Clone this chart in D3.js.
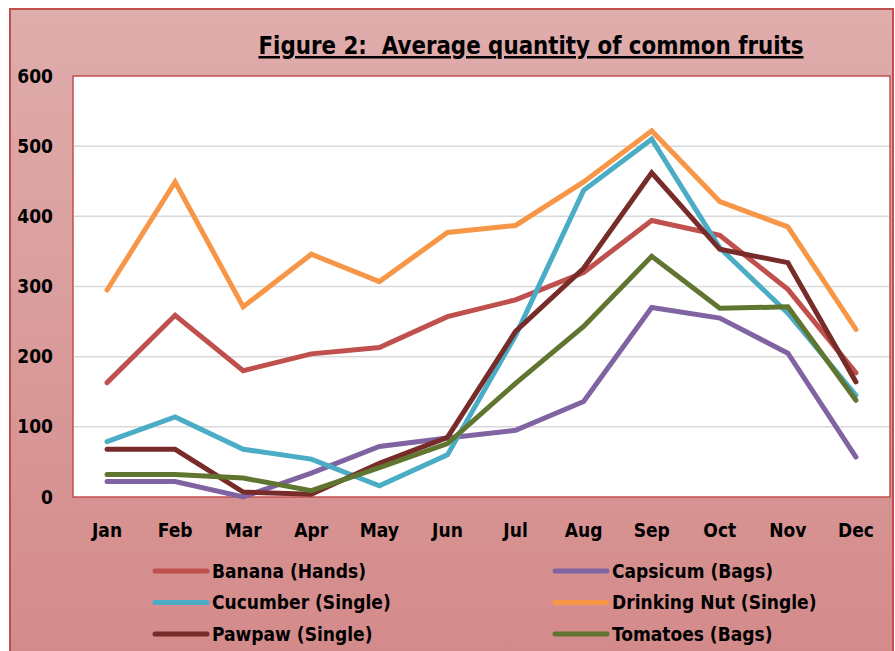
<!DOCTYPE html>
<html>
<head>
<meta charset="utf-8">
<script src="https://cdn.jsdelivr.net/npm/d3@7"></script>
<style>
  body { margin: 0; background: #fff; }
  text { font-family: "Liberation Sans Narrow", "DejaVu Sans Condensed", sans-serif; font-weight: bold; fill: #000; }
</style>
</head>
<body>
<div id="chart"></div>
<script>
var months = ["Jan", "Feb", "Mar", "Apr", "May", "Jun", "Jul", "Aug", "Sep", "Oct", "Nov", "Dec"];
var yTicks = [0, 100, 200, 300, 400, 500, 600];

var banana = [163, 259, 180, 204, 213, 257, 281, 320, 394, 373, 296, 177];
var capsicum = [22, 22, 0, 34, 72, 84, 95, 136, 270, 255, 205, 57];
var cucumber = [79, 114, 68, 54, 16, 60, 230, 437, 510, 355, 262, 145];
var drinkingNut = [295, 449, 271, 346, 307, 377, 387, 449, 522, 421, 385, 239];
var pawpaw = [68, 68, 7, 4, 48, 85, 236, 326, 462, 353, 334, 164];
var tomatoes = [32, 32, 27, 9, 42, 76, 162, 243, 343, 269, 271, 138];

var series = [
  { name: "Banana (Hands)", values: banana, color: "#c0504d" },
  { name: "Capsicum (Bags)", values: capsicum, color: "#8064a2" },
  { name: "Cucumber (Single)", values: cucumber, color: "#4bacc6" },
  { name: "Drinking Nut (Single)", values: drinkingNut, color: "#f79646" },
  { name: "Pawpaw (Single)", values: pawpaw, color: "#772c2a" },
  { name: "Tomatoes (Bags)", values: tomatoes, color: "#5f7530" }
];

var W = 895, H = 651;
var plot = { left: 73, top: 76, right: 890, bottom: 497 };

var svg = d3.select("#chart").append("svg")
  .attr("width", W)
  .attr("height", H);

var defs = svg.append("defs");
var grad = defs.append("linearGradient")
  .attr("id", "bg")
  .attr("x1", 0).attr("y1", 0).attr("x2", 0).attr("y2", 1);
grad.append("stop").attr("offset", "0%").attr("stop-color", "#dfadac");
grad.append("stop").attr("offset", "100%").attr("stop-color", "#d48a8a");

// outer frame
svg.append("rect")
  .attr("x", 10).attr("y", 9)
  .attr("width", 883).attr("height", 650)
  .attr("fill", "url(#bg)")
  .attr("stroke", "#c0504d")
  .attr("stroke-width", 2);

var x = d3.scaleBand()
  .domain(months)
  .range([plot.left, plot.right]);

var y = d3.scaleLinear()
  .domain([0, 600])
  .range([plot.bottom, plot.top]);

// plot area
svg.append("rect")
  .attr("x", plot.left).attr("y", plot.top)
  .attr("width", plot.right - plot.left)
  .attr("height", plot.bottom - plot.top)
  .attr("fill", "#fff")
  .attr("stroke", "#c0504d")
  .attr("stroke-width", 1.5);

// gridlines
svg.append("g")
  .selectAll("line")
  .data(yTicks.filter(function (d) { return d > 0 && d < 600; }))
  .enter().append("line")
  .attr("x1", plot.left + 1).attr("x2", plot.right - 1)
  .attr("y1", function (d) { return y(d); })
  .attr("y2", function (d) { return y(d); })
  .attr("stroke", "#d9d9d9")
  .attr("stroke-width", 1.5);

// y axis labels
var yAxis = svg.append("g")
  .attr("transform", "translate(" + (plot.left - 20) + ",0)")
  .call(d3.axisLeft(y).tickValues(yTicks).tickSize(0).tickPadding(0));
yAxis.select(".domain").remove();
yAxis.selectAll("text")
  .style("font-family", "'Liberation Sans Narrow', 'DejaVu Sans Condensed', sans-serif")
  .style("font-weight", "bold")
  .style("font-size", "19px")
  .attr("fill", "#000");

// x axis labels
var xAxis = svg.append("g")
  .attr("transform", "translate(0," + (plot.bottom + 26) + ")")
  .call(d3.axisBottom(x).tickSize(0).tickPadding(0));
xAxis.select(".domain").remove();
xAxis.selectAll("text")
  .style("font-family", "'Liberation Sans Narrow', 'DejaVu Sans Condensed', sans-serif")
  .style("font-weight", "bold")
  .style("font-size", "19px")
  .attr("fill", "#000");

var line = d3.line()
  .x(function (d, i) { return x(months[i]) + x.bandwidth() / 2; })
  .y(function (d) { return y(d); });

svg.append("g")
  .selectAll("path")
  .data(series)
  .enter().append("path")
  .attr("d", function (d) { return line(d.values); })
  .attr("fill", "none")
  .attr("stroke", function (d) { return d.color; })
  .attr("stroke-width", 5)
  .attr("stroke-linejoin", "miter")
  .attr("stroke-linecap", "round");

// title
svg.append("text")
  .attr("x", 531)
  .attr("y", 54)
  .attr("text-anchor", "middle")
  .style("font-size", "25px")
  .style("white-space", "pre")
  .style("text-decoration", "underline")
  .attr("textLength", 545)
  .attr("lengthAdjust", "spacingAndGlyphs")
  .text("Figure 2:  Average quantity of common fruits");

// legend
var legend = svg.append("g");
var items = legend.selectAll("g")
  .data(series)
  .enter().append("g")
  .attr("transform", function (d, i) {
    return "translate(" + (i % 2 === 0 ? 155 : 555) + "," + (571 + Math.floor(i / 2) * 31.5) + ")";
  });

items.append("line")
  .attr("x1", 0).attr("x2", 52)
  .attr("stroke", function (d) { return d.color; })
  .attr("stroke-width", 5)
  .attr("stroke-linecap", "round");

items.append("text")
  .attr("x", 57)
  .attr("dy", "0.35em")
  .style("font-size", "19px")
  .text(function (d) { return d.name; });
</script>
</body>
</html>
